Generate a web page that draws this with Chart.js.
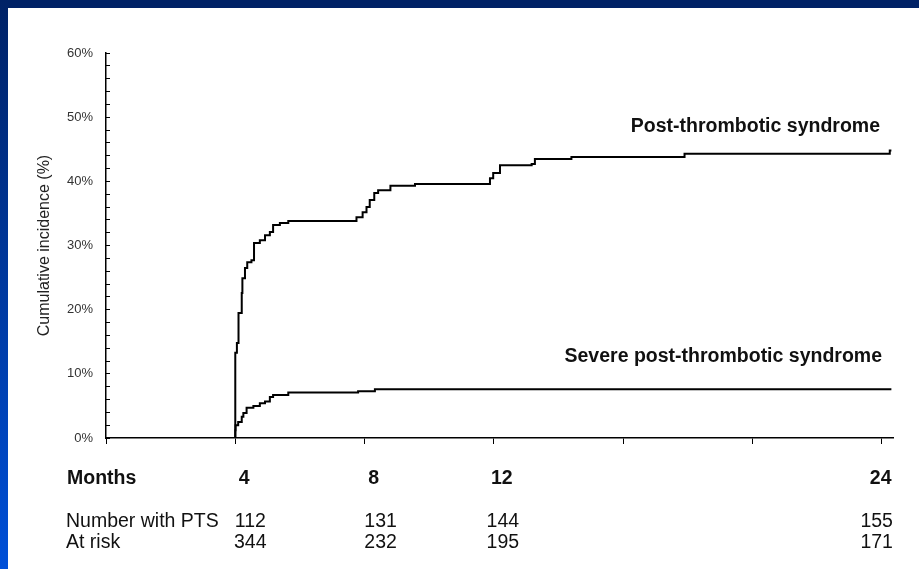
<!DOCTYPE html>
<html>
<head>
<meta charset="utf-8">
<script src="https://cdn.jsdelivr.net/npm/chart.js@4.4.1/dist/chart.umd.min.js"></script>
<style>
  html, body { margin: 0; padding: 0; background: #fff; }
  #wrap { position: relative; width: 919px; height: 569px; overflow: hidden; }
  #chart { position: absolute; left: 0; top: 0; }
  #topbar { position: absolute; left: 0; top: 0; width: 919px; height: 8px; background: #002266; }
  #leftbar { position: absolute; left: 0; top: 0; width: 8px; height: 569px; background: linear-gradient(#002266, #0050d8); }
</style>
</head>
<body>
<div id="wrap">
  <canvas id="chart" width="919" height="569"></canvas>
  <div id="topbar"></div>
  <div id="leftbar"></div>
</div>
<script>
'use strict';

// cumulative incidence (%) at each step, month of the step
let ptsMonths = [0, 4.0, 4.05, 4.1, 4.2, 4.22, 4.3, 4.37, 4.5, 4.58, 4.76, 4.92, 5.07, 5.17, 5.38, 5.64,
  7.75, 7.94, 8.06, 8.16, 8.3, 8.42, 8.8, 9.56, 11.88, 11.98, 12.19, 13.17, 13.27, 14.4, 17.9, 24.25, 24.3];
let ptsValues = [0, 13.3, 14.8, 19.5, 22.6, 24.9, 26.5, 27.4, 27.7, 30.4, 30.8, 31.6, 32.1, 33.2, 33.5, 33.8,
  34.4, 35.2, 36.0, 37.1, 38.2, 38.6, 39.3, 39.6, 40.5, 41.3, 42.5, 42.7, 43.5, 43.8, 44.3, 44.8, 44.8];

let severeMonths = [0, 4.0, 4.01, 4.09, 4.2, 4.25, 4.35, 4.56, 4.76, 4.92, 5.07, 5.17, 5.64, 7.8, 8.32, 24.3];
let severeValues = [0, 1.2, 2.0, 2.5, 3.3, 3.9, 4.7, 5.0, 5.4, 5.7, 6.4, 6.7, 7.1, 7.3, 7.6, 7.6];

let seriesNames = ['Post-thrombotic syndrome', 'Severe post-thrombotic syndrome'];

// table under the axis
let tableMonths = [4, 8, 12, 24];
let numberWithPts = [112, 131, 144, 155];
let atRisk = [344, 232, 195, 171];

function toPoints(xs, ys) {
  return xs.map((x, i) => ({ x: x, y: ys[i] }));
}

let canvasElem = document.getElementById('chart');
let FONT = "'Liberation Sans', Arial, sans-serif";
Chart.defaults.font.family = FONT;

// series names + number-at-risk table
let textPlugin = {
  id: 'textPlugin',
  afterDraw(chart) {
    let ctx = chart.ctx;
    let xs = chart.scales.x;
    ctx.save();
    ctx.fillStyle = '#111';
    ctx.textBaseline = 'middle';

    ctx.font = 'bold 19.5px ' + FONT;
    ctx.textAlign = 'right';
    ctx.fillText(seriesNames[0], 880, 127);
    ctx.fillText(seriesNames[1], 882, 357);

    ctx.textAlign = 'left';
    ctx.fillText('Months', 67, 479);
    let headOff = [9, 9, 8, -1];
    ctx.textAlign = 'center';
    tableMonths.forEach((m, i) => {
      ctx.fillText(String(m), xs.getPixelForValue(m) + headOff[i], 479);
    });

    ctx.font = '19.5px ' + FONT;
    ctx.textAlign = 'left';
    ctx.fillText('Number with PTS', 66, 522);
    ctx.fillText('At risk', 66, 543);
    let rowOff = [15, 16, 9, -5];
    ctx.textAlign = 'center';
    tableMonths.forEach((m, i) => {
      let x = xs.getPixelForValue(m) + rowOff[i];
      ctx.fillText(String(numberWithPts[i]), x, 522);
      ctx.fillText(String(atRisk[i]), x, 543);
    });
    ctx.restore();
  }
};

let data = {
  datasets: [
    {
      label: seriesNames[0],
      data: toPoints(ptsMonths, ptsValues),
      borderColor: '#000',
      borderWidth: 2,
      stepped: 'before',
      pointRadius: 0,
      fill: false,
    },
    {
      label: seriesNames[1],
      data: toPoints(severeMonths, severeValues),
      borderColor: '#000',
      borderWidth: 2,
      stepped: 'before',
      pointRadius: 0,
      fill: false,
    },
  ],
};

let config = {
  type: 'line',
  data: data,
  options: {
    responsive: false,
    animation: false,
    layout: { padding: { top: 53, right: 26, left: 0, bottom: 0 } },
    plugins: { legend: { display: false }, tooltip: { enabled: false } },
    scales: {
      x: {
        type: 'linear',
        min: 0,
        max: 24.35,
        ticks: { stepSize: 4, display: false, includeBounds: false },
        grid: { drawOnChartArea: false, color: '#000', tickLength: 6, lineWidth: 1 },
        border: { color: '#000', width: 1.5 },
        afterFit: s => { s.height = 131; },
      },
      y: {
        min: 0,
        max: 60,
        ticks: {
          stepSize: 2,
          autoSkip: false,
          color: '#333',
          font: { size: 13 },
          padding: 17,
          callback: v => (v % 10 === 0 ? v + '%' : ''),
        },
        grid: { drawOnChartArea: false, color: '#000', tickLength: -4, lineWidth: 1 },
        border: { color: '#000', width: 1.5 },
        title: {
          display: true,
          text: 'Cumulative incidence (%)',
          color: '#222',
          font: { size: 16 },
          padding: { top: 35, bottom: 0 },
        },
        afterFit: s => { s.width = 106; },
      },
    },
  },
  plugins: [textPlugin],
};

new Chart(canvasElem, config);
</script>
</body>
</html>
